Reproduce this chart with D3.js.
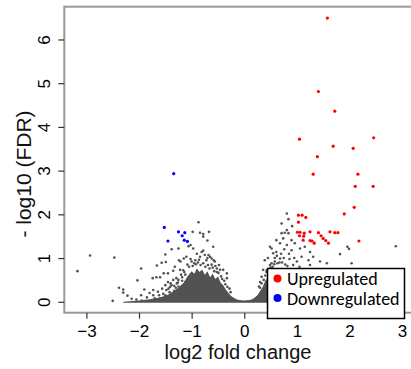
<!DOCTYPE html>
<html>
<head>
<meta charset="utf-8">
<script src="https://cdn.jsdelivr.net/npm/d3@7"></script>
<style>
  body { margin: 0; background: #fff; }
  svg { display: block; }
</style>
</head>
<body>
<svg id="chart" width="411" height="369"></svg>
<script>
// volcano plot: log2 fold change vs -log10(FDR)

const xTicks = [-3, -2, -1, 0, 1, 2, 3];
const yTicks = [0, 1, 2, 3, 4, 5, 6];

// upper edge of the dense mass of non-significant genes (log2FC, -log10 FDR)
const coreEdge = [
  [-2.3, 0], [-2.0, 0.03], [-1.8, 0.06], [-1.6, 0.1], [-1.45, 0.16], [-1.35, 0.24],
  [-1.25, 0.32], [-1.15, 0.44], [-1.08, 0.58], [-1.0, 0.7], [-0.95, 0.64], [-0.9, 0.76],
  [-0.85, 0.68], [-0.8, 0.74], [-0.75, 0.62], [-0.7, 0.7], [-0.65, 0.56], [-0.6, 0.64],
  [-0.55, 0.52], [-0.5, 0.58], [-0.45, 0.44], [-0.4, 0.38], [-0.35, 0.28], [-0.3, 0.2],
  [-0.25, 0.13], [-0.2, 0.09], [-0.15, 0.06], [-0.1, 0.04], [0, 0.03], [0.1, 0.04],
  [0.15, 0.06], [0.2, 0.1], [0.25, 0.15], [0.3, 0.24], [0.35, 0.34], [0.4, 0.48],
  [0.45, 0.56], [0.5, 0.68], [0.55, 0.62], [0.6, 0.76], [0.65, 0.7], [0.7, 0.78],
  [0.75, 0.66], [0.8, 0.72], [0.85, 0.6], [0.9, 0.56], [0.95, 0.46], [1.0, 0.38],
  [1.1, 0.27], [1.2, 0.18], [1.35, 0.11], [1.6, 0.07], [1.9, 0.04], [2.2, 0]
];

// scattered non-significant genes
const otherGenes = [
  [-3.17, 0.70], [-2.93, 1.06], [-2.47, 1.01], [-1.96, 0.76], [-2.03, 0.49], [-2.38, 0.32],
  [-2.30, 0.28], [-2.30, 0.21], [-2.22, 0.14], [-2.14, 0.07], [-1.96, 0.15], [-1.90, 0.28],
  [-1.74, 0.54], [-1.67, 0.56], [-1.60, 0.56], [-1.66, 0.83], [-1.57, 0.89], [-1.49, 0.91],
  [-1.45, 0.65], [-1.53, 0.65], [-1.35, 0.71], [-1.29, 0.54], [-1.25, 0.50], [-1.21, 0.92],
  [-1.24, 0.95], [-1.15, 0.99], [-1.10, 1.03], [-1.32, 0.80], [-1.22, 0.73], [-1.73, 0.27],
  [-1.64, 0.23], [-1.73, 0.15], [-1.60, 0.08], [-1.54, 0.18], [-1.48, 0.27], [-1.41, 0.34],
  [-0.87, 1.82], [-0.98, 1.60], [-0.84, 1.58], [-0.78, 1.49], [-0.70, 1.40], [-0.59, 1.26],
  [-1.02, 1.30], [-0.97, 1.22], [-1.06, 1.27], [-1.38, 1.20], [-1.25, 1.22], [-1.50, 1.08],
  [-0.78, 1.17], [-0.84, 1.03], [-0.68, 1.07], [-0.62, 0.99], [-0.56, 0.92], [-0.48, 0.84],
  [-0.40, 0.73], [-0.33, 0.65], [-0.52, 0.76], [-0.78, 1.55], [-0.67, 1.60], [-0.81, 1.14],
  [-0.75, 1.07], [-0.65, 1.03], [-0.46, 0.73], [-0.33, 0.54], [-1.45, 0.45], [-1.38, 0.38],
  [-1.33, 0.25], [-1.28, 0.42], [-1.20, 0.30], [-1.18, 0.48], [-1.12, 0.62], [-1.40, 0.12],
  [-1.30, 0.10], [-1.27, 0.20], [-1.15, 0.15], [-1.08, 0.85], [-1.00, 0.92], [-0.93, 0.95],
  [-0.90, 1.10], [-0.72, 0.95], [-0.95, 0.88], [-0.62, 0.85], [-0.55, 0.82], [-1.35, 0.50],
  [-1.50, 0.38], [-1.56, 0.30], [-1.85, 0.10], [-1.80, 0.20], [-2.05, 0.05], [-1.95, 0.03],
  [-2.50, 0.02], [-1.12, 0.45], [-1.10, 0.35], [-1.05, 0.80], [-0.98, 0.82], [-0.92, 0.86],
  [-0.88, 0.90], [-0.83, 0.84], [-0.78, 0.88], [-0.74, 0.80], [-0.69, 0.84], [-0.66, 0.76],
  [-0.60, 0.78], [-0.57, 0.70], [-0.52, 0.68], [-0.49, 0.66], [-0.44, 0.58], [-0.42, 0.52],
  [-0.38, 0.48], [-0.36, 0.40], [-0.32, 0.34], [-0.28, 0.30], [-0.26, 0.22], [-1.25, 0.35],
  [-1.22, 0.22], [-1.30, 0.32], [-1.42, 0.22], [-1.50, 0.15], [-1.62, 0.15], [-1.70, 0.08],
  [-1.20, 0.62], [-1.16, 0.72], [-1.02, 0.98], [-0.86, 0.96], [-0.70, 1.00], [-0.58, 0.95],
  [-1.40, 0.42], [-1.33, 0.36], [-1.26, 0.44], [-1.18, 0.56], [-1.14, 0.68], [-1.44, 0.30],
  [0.81, 2.02], [0.71, 1.79], [0.91, 1.73], [0.84, 1.89], [0.77, 1.58], [0.74, 1.45],
  [0.84, 1.57], [0.90, 1.41], [0.68, 1.34], [0.81, 1.30], [0.96, 1.34], [0.52, 1.22],
  [0.61, 1.14], [0.90, 1.18], [1.06, 1.22], [1.15, 1.26], [1.25, 1.14], [1.82, 1.09],
  [1.96, 1.26], [1.99, 1.21], [2.88, 1.27], [2.04, 0.88], [1.44, 0.92], [1.31, 1.03],
  [1.22, 0.95], [1.09, 1.03], [1.00, 0.92], [0.93, 0.84], [0.68, 0.99], [0.58, 0.92],
  [0.49, 0.84], [1.25, 0.84], [1.57, 0.88], [0.49, 1.26], [0.55, 1.11], [0.61, 1.41],
  [0.71, 1.57], [0.81, 1.64], [0.39, 0.95], [0.36, 0.73], [0.33, 0.57], [0.52, 0.88],
  [0.45, 1.00], [0.62, 1.05], [0.75, 1.00], [0.86, 0.98], [0.42, 0.68], [0.30, 0.45],
  [0.28, 0.35], [0.30, 0.32], [0.33, 0.42], [0.37, 0.50], [0.40, 0.60], [0.43, 0.72],
  [0.47, 0.70], [0.50, 0.78], [0.54, 0.80], [0.57, 0.86], [0.63, 0.88], [0.67, 0.90],
  [0.72, 0.90], [0.78, 0.85], [0.82, 0.82], [0.87, 0.74], [0.92, 0.68], [0.97, 0.60],
  [1.02, 0.52], [1.05, 0.40], [1.12, 0.38], [1.18, 0.28], [1.28, 0.22], [1.40, 0.16],
  [1.50, 0.12], [0.58, 1.00], [0.70, 1.10], [0.76, 1.20], [0.85, 1.10], [0.95, 1.00],
  [1.05, 0.80]
];

const upGenes = [
  [1.58, 6.49], [1.41, 4.81], [1.72, 4.36], [1.05, 3.72], [2.46, 3.75], [1.69, 3.56],
  [2.07, 3.51], [1.39, 3.32], [1.31, 2.92], [2.16, 2.92], [2.11, 2.64], [2.45, 2.64],
  [2.09, 2.16], [1.90, 2.01], [1.03, 1.98], [1.10, 1.98], [1.17, 1.93], [1.03, 1.82],
  [1.01, 1.59], [1.06, 1.59], [1.14, 1.57], [1.25, 1.60], [1.41, 1.58], [1.63, 1.60],
  [1.72, 1.58], [1.78, 1.58], [1.05, 1.51], [1.13, 1.50], [1.46, 1.51], [1.50, 1.45],
  [1.12, 1.41], [1.25, 1.40], [1.29, 1.39], [1.33, 1.34], [1.55, 1.40], [1.60, 1.34],
  [2.18, 1.39]
];

const downGenes = [
  [-1.34, 2.93], [-1.52, 1.70], [-1.25, 1.60], [-1.13, 1.58], [-1.18, 1.51],
  [-1.45, 1.39], [-1.14, 1.41], [-1.08, 1.38]
];

const legendLabels = ["Upregulated", "Downregulated"];
const legendColors = ["#ff0000", "#0000ff"];

const svg = d3.select("#chart");

const x = d3.scaleLinear().domain([-3.42, 3.42]).range([64.3, 424.2]);
const y = d3.scaleLinear().domain([-0.25, 6.75]).range([312.7, 6.7]);

// dense core
svg.append("path")
  .datum(coreEdge)
  .attr("fill", "#525252")
  .attr("d", d3.area().x(d => x(d[0])).y0(y(0) + 1).y1(d => y(d[1])));

svg.append("g")
  .selectAll("circle")
  .data(otherGenes)
  .join("circle")
  .attr("cx", d => x(d[0]))
  .attr("cy", d => y(d[1]))
  .attr("r", 1.3)
  .attr("fill", "#525252");

svg.append("g")
  .selectAll("circle")
  .data(downGenes)
  .join("circle")
  .attr("cx", d => x(d[0]))
  .attr("cy", d => y(d[1]))
  .attr("r", 1.6)
  .attr("fill", "#0000ff");

svg.append("g")
  .selectAll("circle")
  .data(upGenes)
  .join("circle")
  .attr("cx", d => x(d[0]))
  .attr("cy", d => y(d[1]))
  .attr("r", 1.6)
  .attr("fill", "#ff0000");

// frame
svg.append("rect")
  .attr("x", x.range()[0])
  .attr("y", y.range()[1])
  .attr("width", x.range()[1] - x.range()[0])
  .attr("height", y.range()[0] - y.range()[1])
  .attr("fill", "none")
  .attr("stroke", "#999")
  .attr("stroke-width", 2);

// axes
const xAxis = svg.append("g")
  .attr("transform", `translate(0,${y.range()[0]})`)
  .call(d3.axisBottom(x).tickValues(xTicks).tickFormat(d3.format("d")).tickSize(6).tickSizeOuter(0));

const yAxis = svg.append("g")
  .attr("transform", `translate(${x.range()[0]},0)`)
  .call(d3.axisLeft(y).tickValues(yTicks).tickFormat(d3.format("d")).tickSize(6).tickSizeOuter(0));

[xAxis, yAxis].forEach(g => {
  g.select(".domain").remove();
  g.selectAll(".tick line").attr("stroke", "#333").attr("stroke-width", 1.2);
  g.selectAll(".tick text")
    .attr("fill", "#000")
    .style("font-family", "'Liberation Sans', Arial, sans-serif")
    .style("font-size", "17px");
});

xAxis.selectAll(".tick text").attr("y", 24).attr("dy", 0);
yAxis.selectAll(".tick text")
  .attr("transform", "rotate(-90)")
  .attr("text-anchor", "middle")
  .attr("x", 0)
  .attr("y", -14)
  .attr("dy", 0);

svg.append("text")
  .attr("x", 238)
  .attr("y", 359)
  .attr("text-anchor", "middle")
  .attr("fill", "#111")
  .style("font-family", "'Liberation Sans', Arial, sans-serif")
  .style("font-size", "20px")
  .text("log2 fold change");

svg.append("text")
  .attr("transform", "translate(31,174) rotate(-90)")
  .attr("text-anchor", "middle")
  .attr("fill", "#111")
  .style("font-family", "'Liberation Sans', Arial, sans-serif")
  .style("font-size", "21px")
  .text("- log10 (FDR)");

// legend
const legend = svg.append("g");
legend.append("rect")
  .attr("x", 267.5)
  .attr("y", 268.5)
  .attr("width", 137)
  .attr("height", 50)
  .attr("fill", "#fff")
  .attr("stroke", "#000")
  .attr("stroke-width", 1.5);

legendLabels.forEach((label, i) => {
  legend.append("circle")
    .attr("cx", 277.5)
    .attr("cy", 278.5 + i * 19.5)
    .attr("r", 4)
    .attr("fill", legendColors[i]);
  legend.append("text")
    .attr("x", 287)
    .attr("y", 285 + i * 20)
    .attr("fill", "#000")
    .style("font-family", "Carlito, Lato, sans-serif")
    .style("font-size", "18px")
    .text(label);
});
</script>
</body>
</html>
